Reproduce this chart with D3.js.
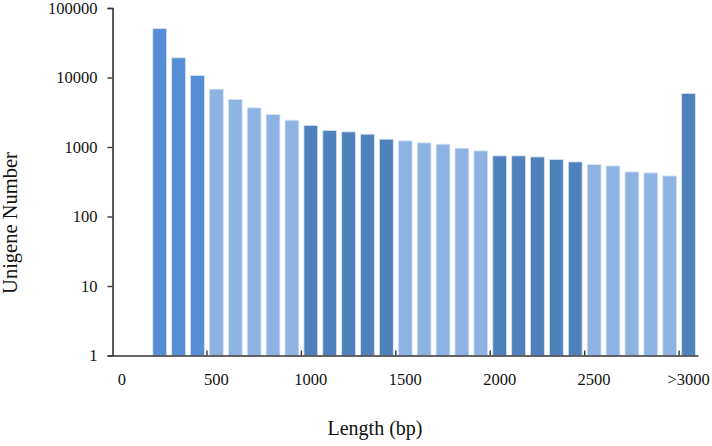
<!DOCTYPE html>
<html>
<head>
<meta charset="utf-8">
<script src="https://cdn.jsdelivr.net/npm/d3@7"></script>
<style>
  body { margin: 0; background: #fff; }
  text { font-family: "Liberation Serif", "Times New Roman", serif; fill: #111; }
</style>
</head>
<body>
<div id="chart"></div>
<script>
// length classes (bp), one per 100 bp, last one open ended
var categories = ["0","100","200","300","400","500","600","700","800","900",
  "1000","1100","1200","1300","1400","1500","1600","1700","1800","1900",
  "2000","2100","2200","2300","2400","2500","2600","2700","2800","2900",">3000"];

// unigene counts (no bars for 0 and 100)
var lengths = ["200","300","400","500","600","700","800","900",
  "1000","1100","1200","1300","1400","1500","1600","1700","1800","1900",
  "2000","2100","2200","2300","2400","2500","2600","2700","2800","2900",">3000"];
var counts = [50500, 19200, 10700, 6800, 4830, 3660, 2940, 2430,
  2040, 1730, 1650, 1530, 1295, 1225, 1146, 1097, 961, 879,
  745, 745, 720, 661, 610, 560, 534, 438, 424, 383, 5900];

var xLabels = ["0","500","1000","1500","2000","2500",">3000"];
var yTicks = [1, 10, 100, 1000, 10000, 100000];

var W = 712, H = 446;
var plotLeft = 112.5, plotRight = 698, plotTop = 8, plotBottom = 355.5;

var svg = d3.select("#chart").append("svg")
  .attr("width", W)
  .attr("height", H);

var x = d3.scaleBand()
  .domain(categories)
  .range([plotLeft, plotRight])
  .paddingInner(0.27)
  .paddingOuter(0.135);

var y = d3.scaleLog()
  .domain([1, 100000])
  .range([plotBottom, plotTop]);

// colour blocks of five classes
function barColor(cat) {
  var i = categories.indexOf(cat);
  if (i < 5) return "#558ed5";
  return Math.floor(i / 5) % 2 === 1 ? "#8db3e2" : "#4f81bd";
}

var data = lengths.map(function(d, i) { return {len: d, n: counts[i]}; });

svg.append("g")
  .selectAll("rect")
  .data(data)
  .enter()
  .append("rect")
  .attr("x", function(d) { return x(d.len); })
  .attr("width", x.bandwidth())
  .attr("y", function(d) { return y(d.n); })
  .attr("height", function(d) { return y(1) - y(d.n); })
  .style("fill", function(d) { return barColor(d.len); })
  .style("stroke", "#d6e4f5")
  .style("stroke-width", 0.8);

// y axis
var yAxis = svg.append("g")
  .attr("transform", "translate(" + plotLeft + ",0)")
  .call(d3.axisLeft(y).tickValues(yTicks).tickFormat(d3.format("d")).tickSize(5).tickPadding(10));
yAxis.select(".domain").attr("stroke", "#333").attr("stroke-width", 1.6);
yAxis.selectAll(".tick line").attr("stroke", "#333").attr("stroke-width", 1.4);
yAxis.selectAll("text")
  .style("font-size", "16.5px")
  .style("font-family", "Liberation Serif, serif")
  .attr("fill", "#111");

// x axis: labels at category centres
var xAxis = svg.append("g")
  .attr("transform", "translate(0," + plotBottom + ")")
  .call(d3.axisBottom(x).tickValues(xLabels).tickSize(0).tickPadding(18));
xAxis.select(".domain").attr("stroke", "#333").attr("stroke-width", 1.6);
xAxis.selectAll("text")
  .style("font-size", "16.5px")
  .style("font-family", "Liberation Serif, serif")
  .attr("fill", "#111");

// tick marks between categories, every fifth, pointing inward
var gap = x.step() * x.paddingInner() / 2;
svg.append("g")
  .selectAll("line")
  .data(["500","1000","1500","2000","2500",">3000"])
  .enter()
  .append("line")
  .attr("x1", function(d) { return x(d) - gap; })
  .attr("x2", function(d) { return x(d) - gap; })
  .attr("y1", plotBottom)
  .attr("y2", plotBottom - 5)
  .attr("stroke", "#333")
  .attr("stroke-width", 1.4);

// axis titles
svg.append("text")
  .attr("x", 375)
  .attr("y", 435)
  .attr("text-anchor", "middle")
  .style("font-size", "20px")
  .text("Length (bp)");

svg.append("text")
  .attr("transform", "translate(17,223) rotate(-90)")
  .attr("text-anchor", "middle")
  .style("font-size", "20.5px")
  .text("Unigene Number");
</script>
</body>
</html>
